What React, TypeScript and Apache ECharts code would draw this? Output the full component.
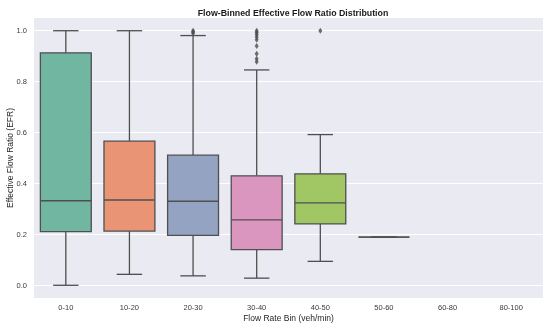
import React, { useEffect, useRef } from "react";
import * as echarts from "echarts";

const categories = ["0-10", "10-20", "20-30", "30-40", "40-50", "50-60", "60-80", "80-100"];
// [low whisker, Q1, median, Q3, high whisker]
const lowWhisker = [0.0, 0.043, 0.037, 0.028, 0.094, 0.189];
const q1Values = [0.211, 0.213, 0.196, 0.14, 0.241, 0.189];
const medianValues = [0.332, 0.335, 0.33, 0.257, 0.324, 0.189];
const q3Values = [0.913, 0.566, 0.511, 0.43, 0.438, 0.189];
const highWhisker = [1.0, 1.0, 0.981, 0.846, 0.592, 0.189];
const outliers2030 = [0.99, 0.995, 1.0];
const outliers3040 = [1.0, 0.993, 0.985, 0.975, 0.965, 0.94, 0.91, 0.89, 0.878];
const outliers4050 = [1.0];
const yTicks = [0, 0.2, 0.4, 0.6, 0.8, 1.0];

const palette = ["#71b6a0", "#e99575", "#95a3c3", "#db96c0", "#a1c764", "#c7b37d", "#c0b09b", "#a9a9a9"];
const edge = "#4f4f4f";
const font = "'Liberation Sans', Arial, sans-serif";

export default function App() {
  const ref = useRef<HTMLDivElement>(null);
  useEffect(() => {
    if (!ref.current) return;
    const chart = echarts.init(ref.current, undefined, { renderer: "svg" });
    const boxData = lowWhisker.map((_, i) => [i, lowWhisker[i], q1Values[i], medianValues[i], q3Values[i], highWhisker[i]]);
    const outlierData: any[] = [];
    outliers2030.forEach((v) => outlierData.push([2, v]));
    outliers3040.forEach((v) => outlierData.push([3, v]));
    outliers4050.forEach((v) => outlierData.push([4, v]));

    chart.setOption({
      animation: false,
      title: {
        text: "Flow-Binned Effective Flow Ratio Distribution",
        left: 288,
        top: 3,
        textAlign: "center",
        textStyle: { fontFamily: font, fontSize: 8.8, fontWeight: "bold", color: "#1a1a1a" },
      },
      grid: {
        left: 34,
        right: 7,
        top: 18,
        bottom: 30,
        containLabel: false,
        outerBoundsMode: "none",
        show: true,
        backgroundColor: "#EAEAF2",
        borderWidth: 0,
      },
      xAxis: {
        type: "category",
        data: categories,
        boundaryGap: true,
        name: "Flow Rate Bin (veh/min)",
        nameLocation: "middle",
        nameGap: 15,
        nameMoveOverlap: false,
        nameTextStyle: { fontFamily: font, fontSize: 8.5, color: "#262626" },
        axisLine: { show: false },
        axisTick: { show: false },
        axisLabel: { fontFamily: font, fontSize: 7.5, color: "#3a3a3a", margin: 5 },
        splitLine: { show: false },
      },
      yAxis: {
        type: "value",
        min: -0.05,
        max: 1.05,
        name: "Effective Flow Ratio (EFR)",
        nameLocation: "middle",
        nameGap: 20,
        nameMoveOverlap: false,
        nameTextStyle: { fontFamily: font, fontSize: 8.5, color: "#262626" },
        axisLine: { show: false },
        axisTick: { show: false, customValues: yTicks },
        axisLabel: {
          fontFamily: font,
          fontSize: 7.5,
          color: "#3a3a3a",
          margin: 7,
          customValues: yTicks,
          formatter: (v: number) => v.toFixed(1),
        },
        splitLine: { show: true, lineStyle: { color: "#ffffff", width: 1 } },
      },
      series: [
        {
          type: "custom",
          data: boxData,
          encode: { x: 0, y: [1, 2, 3, 4, 5] },
          renderItem: (params: any, api: any) => {
            const x = api.value(0);
            const low = api.coord([x, api.value(1)]);
            const q1 = api.coord([x, api.value(2)]);
            const med = api.coord([x, api.value(3)]);
            const q3 = api.coord([x, api.value(4)]);
            const high = api.coord([x, api.value(5)]);
            const bw = api.size([1, 0])[0] * 0.8;
            const cx = low[0];
            const capHalf = bw / 4;
            const ls = { stroke: edge, lineWidth: 1.3 };
            return {
              type: "group",
              children: [
                { type: "line", shape: { x1: cx, y1: low[1], x2: cx, y2: q1[1] }, style: ls },
                { type: "line", shape: { x1: cx, y1: q3[1], x2: cx, y2: high[1] }, style: ls },
                { type: "line", shape: { x1: cx - capHalf, y1: low[1], x2: cx + capHalf, y2: low[1] }, style: ls },
                { type: "line", shape: { x1: cx - capHalf, y1: high[1], x2: cx + capHalf, y2: high[1] }, style: ls },
                {
                  type: "rect",
                  shape: { x: cx - bw / 2, y: q3[1], width: bw, height: q1[1] - q3[1] },
                  style: { fill: palette[params.dataIndex], stroke: edge, lineWidth: 1.3 },
                },
                { type: "line", shape: { x1: cx - bw / 2, y1: med[1], x2: cx + bw / 2, y2: med[1] }, style: ls },
              ],
            };
          },
        },
        {
          type: "scatter",
          data: outlierData,
          symbol: "diamond",
          symbolSize: [4, 6],
          itemStyle: { color: "#4a4a4a" },
          z: 5,
        },
      ],
    });
    return () => chart.dispose();
  }, []);
  return <div ref={ref} style={{ position: "fixed", left: 0, top: 0, width: 550, height: 328 }} />;
}
